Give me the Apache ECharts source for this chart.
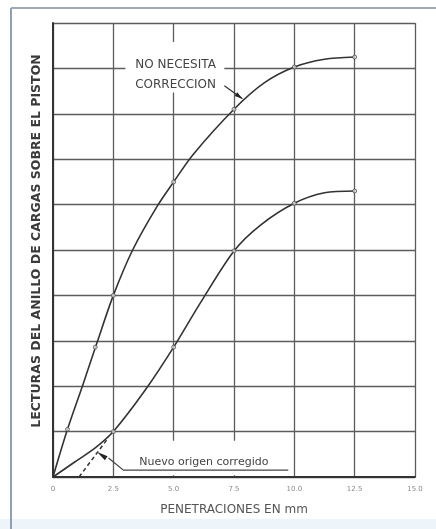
<!DOCTYPE html>
<html>
<head>
<meta charset="utf-8">
<script src="https://cdn.jsdelivr.net/npm/echarts@6/dist/echarts.min.js"></script>
<style>
html,body{margin:0;padding:0;background:#fff;}
#c{width:436px;height:529px;}
</style>
</head>
<body>
<div id="c"></div>
<script>
// ---- data ----
var xTickLabels = ['0', '2.5', '5.0', '7.5', '10.0', '12.5', '15.0'];
var upperCurve = [[0,0],[0.6,1.05],[1.25,2.05],[1.85,3.0],[2.5,4.0],[3.3,5.0],[4.3,5.95],[5.0,6.5],[5.8,7.1],[7.5,8.1],[8.75,8.68],[10,9.03],[11.25,9.2],[12.5,9.25]];
var upperMarks = [[0.6,1.05],[1.75,2.86],[2.5,4.0],[5.0,6.5],[7.5,8.1],[10,9.03],[12.5,9.25]];
var lowerCurve = [[0,0],[0.9,0.33],[1.75,0.64],[2.5,1.0],[3.83,1.92],[5.0,2.86],[6.1,3.83],[7.5,4.98],[8.6,5.55],[10,6.03],[11.25,6.26],[12.5,6.3]];
var lowerMarks = [[2.5,1.0],[5.0,2.86],[7.5,4.98],[10,6.03],[12.5,6.3]];
var correctedOrigin = [[1.08,0],[2.3,0.87]];
var xTitle = 'PENETRACIONES EN mm';
var yTitle = 'LECTURAS DEL ANILLO DE CARGAS SOBRE EL PISTON';
var noteTop = ['NO NECESITA', 'CORRECCION'];
var noteBottom = 'Nuevo origen corregido';

var chart = echarts.init(document.getElementById('c'), null, {renderer:'canvas'});
var gridColor = '#5c5c5c';
var lineColor = '#333';
var option = {
  backgroundColor: '#fff',
  animation: false,
  grid: {left: 53, right: 21, top: 23, bottom: 52, containLabel: false},
  xAxis: {
    type: 'value', min: 0, max: 15, interval: 2.5,
    axisLine: {show: true, onZero: false, lineStyle: {color: '#333', width: 2}},
    axisTick: {show: false},
    axisLabel: {
      color: '#8a8a8a', fontSize: 7, margin: 9, fontFamily: 'DejaVu Sans',
      formatter: function (v) { return xTickLabels[Math.round(v / 2.5)]; }
    },
    splitLine: {show: true, lineStyle: {color: gridColor, width: 1.3}},
    name: xTitle, nameLocation: 'middle', nameGap: 27,
    nameTextStyle: {color: '#555', fontSize: 12, fontFamily: 'DejaVu Sans'}
  },
  yAxis: {
    type: 'value', min: 0, max: 10, interval: 1,
    axisLine: {show: true, lineStyle: {color: '#333', width: 2}},
    axisTick: {show: false},
    axisLabel: {show: false},
    splitLine: {show: true, lineStyle: {color: gridColor, width: 1.3}}
  },
  series: [
    {type: 'line', data: upperCurve, smooth: 0.3, showSymbol: false,
     lineStyle: {color: lineColor, width: 1.6}, z: 3},
    {type: 'line', data: lowerCurve, smooth: 0.3, showSymbol: false,
     lineStyle: {color: lineColor, width: 1.6}, z: 3},
    {type: 'line', data: correctedOrigin, showSymbol: false,
     lineStyle: {color: lineColor, width: 1.5, type: [4, 3]}, z: 3},
    {type: 'scatter', data: upperMarks.concat(lowerMarks), symbol: 'circle', symbolSize: 4,
     itemStyle: {color: '#ddd', borderColor: '#444', borderWidth: 0.9}, z: 4}
  ]
};
chart.setOption(option);

function px(p) { return chart.convertToPixel({gridIndex: 0}, p); }
function arrowHead(tip, from, len, half) {
  var dx = tip[0] - from[0], dy = tip[1] - from[1];
  var d = Math.sqrt(dx*dx + dy*dy); dx /= d; dy /= d;
  var bx = tip[0] - dx*len, by = tip[1] - dy*len;
  return [tip, [bx - dy*half, by + dx*half], [bx + dy*half, by - dx*half]];
}

// annotation anchors (in data coordinates)
var topBoxA = px([3.0, 9.58]), topBoxB = px([7.1, 8.47]);
var topL1 = px([5.08, 9.08]), topL2 = px([5.08, 8.64]);
var topLeadStart = px([7.1, 8.62]), topLeadTip = px([7.85, 8.33]);
var botBoxA = px([3.0, 0.8]), botBoxB = px([9.7, 0.04]);
var botText = px([6.25, 0.33]);
var botLeadTip = px([1.83, 0.55]), botLeadKnee = px([2.92, 0.15]), botLeadEnd = px([9.75, 0.15]);
var botHeadBase = px([2.3, 0.42]);

var g = [];
// outer frame of the figure
g.push({type:'rect', shape:{x:0, y:519, width:436, height:10}, style:{fill:'#eef5fa'}, z:0, silent:true});
g.push({type:'line', shape:{x1:11, y1:8, x2:436, y2:8}, style:{stroke:'#9eabb6', lineWidth:2}, z:10});
g.push({type:'line', shape:{x1:11, y1:8, x2:11, y2:529}, style:{stroke:'#8fa0b0', lineWidth:2}, z:10});
// y axis title
g.push({type:'text', x:37, y:241, rotation:Math.PI/2, style:{text:yTitle, fill:'#3a3a3a', font:'bold 12.5px "DejaVu Sans"', textAlign:'center', textVerticalAlign:'middle'}, z:6});
// top note
g.push({type:'rect', shape:{x:topBoxA[0], y:topBoxA[1], width:topBoxB[0]-topBoxA[0], height:topBoxB[1]-topBoxA[1]}, style:{fill:'#fff'}, z:5});
g.push({type:'text', x:topL1[0], y:topL1[1], style:{text:noteTop[0], fill:'#444', font:'12px "DejaVu Sans"', textAlign:'center', textVerticalAlign:'middle'}, z:6});
g.push({type:'text', x:topL2[0], y:topL2[1], style:{text:noteTop[1], fill:'#444', font:'12px "DejaVu Sans"', textAlign:'center', textVerticalAlign:'middle'}, z:6});
g.push({type:'line', shape:{x1:topLeadStart[0], y1:topLeadStart[1], x2:topLeadTip[0], y2:topLeadTip[1]}, style:{stroke:'#333', lineWidth:1.2}, z:6});
g.push({type:'polygon', shape:{points: arrowHead(topLeadTip, topLeadStart, 8, 2.2)}, style:{fill:'#222'}, z:6});
// bottom note
g.push({type:'rect', shape:{x:botBoxA[0], y:botBoxA[1], width:botBoxB[0]-botBoxA[0], height:botBoxB[1]-botBoxA[1]}, style:{fill:'#fff'}, z:5});
g.push({type:'text', x:botText[0], y:botText[1], style:{text:noteBottom, fill:'#444', font:'11px "DejaVu Sans"', textAlign:'center', textVerticalAlign:'middle'}, z:6});
g.push({type:'polyline', shape:{points:[botHeadBase, botLeadKnee, botLeadEnd]}, style:{stroke:'#444', lineWidth:1.2, fill:null}, z:6});
g.push({type:'polygon', shape:{points: arrowHead(botLeadTip, botLeadKnee, 11, 2.4)}, style:{fill:'#222'}, z:6});
chart.setOption({graphic: g});
</script>
</body>
</html>
